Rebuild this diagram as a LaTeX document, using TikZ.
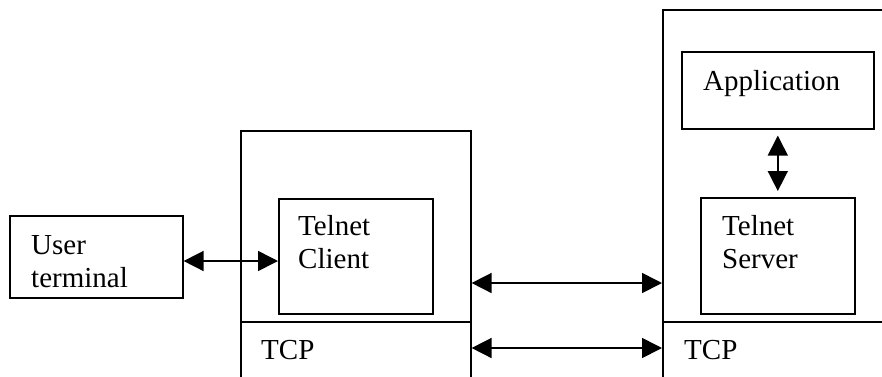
\documentclass[tikz,border=0pt]{standalone}
\usepackage{fontspec}
\setmainfont{Liberation Serif}
\usetikzlibrary{arrows.meta}
\begin{document}
\begin{tikzpicture}[x=1pt,y=-1pt,
  box/.style={draw,line width=1.6pt,rectangle,inner sep=0pt,anchor=north west},
  lbl/.style={inner sep=0pt,anchor=base west,align=left,font=\fontsize{29}{33}\selectfont},
  dbl/.style={line width=1.6pt,{Triangle[length=20pt,width=20pt]}-{Triangle[length=20pt,width=20pt]}}]
\useasboundingbox (0,0) rectangle (882,376);
\clip (0,0) rectangle (882,376);
\fill[white] (0,0) rectangle (882,376);
% end hosts and their inner components
\node[box,minimum width=173pt,minimum height=82pt] (ut) at (9,215) {};
\node[box,minimum width=230pt,minimum height=250pt] (lhost) at (240,130) {};
\node[box,minimum width=154pt,minimum height=115pt] (client) at (278,198) {};
\node[box,minimum width=228pt,minimum height=371pt] (rhost) at (662,9) {};
\node[box,minimum width=192pt,minimum height=77pt] (app) at (681,51) {};
\node[box,minimum width=154pt,minimum height=116pt] (server) at (700,197) {};
% TCP layer dividers
\draw[line width=1.6pt] (lhost.west |- 0,322) -- (lhost.east |- 0,322);
\draw[line width=1.6pt] (rhost.west |- 0,322) -- (rhost.east |- 0,322);
% labels (base anchor sits on the last line)
\node[lbl] (tut) at (31,287) {User\\terminal};
\node[lbl] (tcl) at (298,268) {Telnet\\Client};
\node[lbl] (tsv) at (722,268) {Telnet\\Server};
\node[lbl] (tap) at (703,90) {Application};
\node[lbl] (ttl) at (261,359) {TCP};
\node[lbl] (ttr) at (684,359) {TCP};
% connections
\draw[dbl] (ut.east |- 0,261) -- (client.west |- 0,261);
\draw[dbl] (lhost.east |- 0,283) -- (rhost.west |- 0,283);
\draw[dbl] (lhost.east |- 0,348) -- (rhost.west |- 0,348);
\draw[dbl,shorten <=6pt,shorten >=6pt] (app.south) -- (server.north);
\end{tikzpicture}
\end{document}
